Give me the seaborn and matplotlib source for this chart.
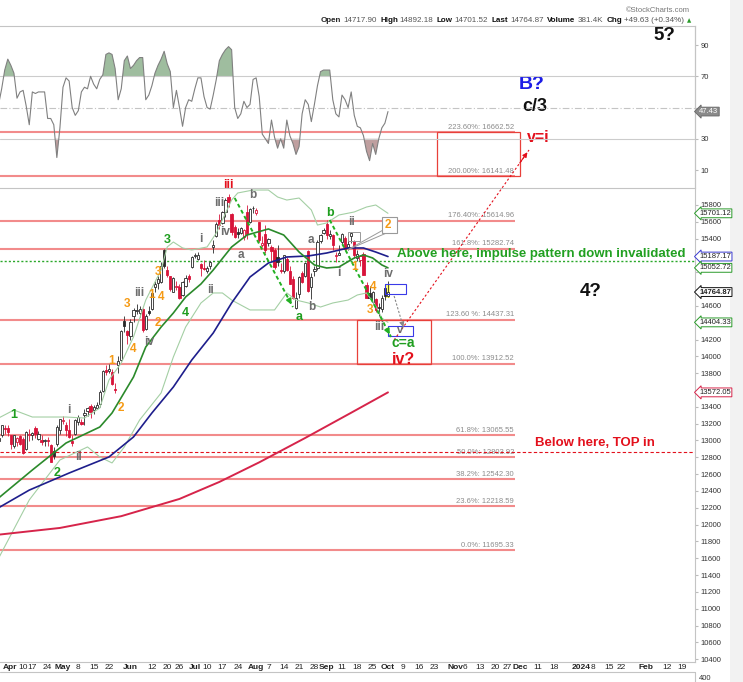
import numpy as np
import pandas as pd
import matplotlib
matplotlib.use("Agg")
import matplotlib.pyplot as plt
import matplotlib.transforms as mtrans
from matplotlib.patches import Rectangle
from matplotlib.lines import Line2D
from matplotlib import font_manager
import seaborn as sns

sns.set_style("white")
plt.rcParams["font.family"] = ["Liberation Sans", "DejaVu Sans"]
_names = {f.name for f in font_manager.fontManager.ttflist}
NARROW = "Liberation Sans Narrow" if "Liberation Sans Narrow" in _names else "Liberation Sans"

W, H = 743, 682

# ---------------- data ----------------
holidays = ["2023-04-07", "2023-05-29", "2023-06-19", "2023-07-04", "2023-09-04",
            "2023-11-23", "2023-12-25", "2024-01-01", "2024-01-15", "2024-02-19"]
days = pd.bdate_range("2023-03-30", "2024-03-01", freq="C", holidays=holidays)

# daily candles, 2023-03-30 .. 2023-10-02
opens = [12990, 13060, 13150, 13150, 13060, 12940, 12980, 13050, 13020, 12900, 13060, 13070, 13150, 13020,
         13000, 12990, 13000, 12950, 12880, 12960, 13130, 13230, 13190, 13130, 12990, 13080, 13220, 13220,
         13300, 13350, 13410, 13360, 13390, 13430, 13590, 13840, 13830, 13810, 13610, 13900, 13960, 14420,
         14300, 14240, 14480, 14540, 14520, 14560, 14320, 14540, 14560, 14820, 14870, 14890, 15260, 15030,
         14950, 14770, 14830, 14820, 14730, 14840, 14950, 15060, 15190, 15160, 15100, 15050, 15020, 15080,
         15300, 15430, 15620, 15590, 15720, 15900, 15690, 15540, 15480, 15470, 15420, 15720, 15600, 15770,
         15700, 15600, 15320, 15460, 15350, 15300, 15270, 15180, 15030, 15010, 15160, 15010, 14920, 14570,
         14740, 14990, 14960, 15250, 14830, 15020, 15050, 15370, 15470, 15580, 15430, 15440, 15190, 15210,
         15360, 15410, 15300, 15430, 15370, 15170, 15150, 15220, 14850, 14750, 14650, 14680, 14590, 14560,
         14810, 14718]
highs = [13050, 13190, 13190, 13180, 13070, 13070, 13040, 13060, 13040, 13110, 13140, 13100, 13170, 13110,
         13070, 13020, 13040, 12960, 12920, 13180, 13250, 13290, 13220, 13260, 13060, 13260, 13300, 13260,
         13370, 13400, 13430, 13420, 13460, 13600, 13840, 13900, 13910, 13850, 13680, 14000, 14310, 14480,
         14310, 14440, 14580, 14620, 14600, 14580, 14500, 14600, 14760, 14900, 14960, 15120, 15280, 15070,
         14960, 14940, 14900, 14860, 14900, 14970, 14980, 15190, 15230, 15240, 15110, 15150, 15070, 15130,
         15380, 15600, 15690, 15730, 15880, 15930, 15700, 15560, 15530, 15540, 15510, 15800, 15760, 15790,
         15770, 15600, 15430, 15560, 15410, 15320, 15290, 15320, 15110, 15200, 15180, 15080, 14950, 14760,
         14960, 15010, 15120, 15260, 14990, 15070, 15380, 15460, 15530, 15620, 15500, 15450, 15240, 15320,
         15470, 15430, 15380, 15480, 15380, 15260, 15210, 15240, 14880, 14840, 14780, 14700, 14630, 14730,
         14860, 14892]
lows = [12950, 13040, 13080, 13050, 12900, 12910, 12930, 12950, 12840, 12890, 12990, 13010, 13030, 13010,
        12950, 12930, 12930, 12740, 12780, 12930, 13080, 13200, 13050, 13030, 12930, 13070, 13190, 13190,
        13180, 13290, 13270, 13320, 13380, 13400, 13580, 13780, 13800, 13660, 13560, 13800, 13950, 14290,
        14150, 14200, 14410, 14500, 14470, 14290, 14310, 14490, 14550, 14760, 14800, 14870, 15050, 14940,
        14780, 14760, 14790, 14680, 14720, 14830, 14880, 15050, 15170, 15150, 14960, 15030, 14990, 15040,
        15230, 15420, 15520, 15580, 15660, 15780, 15440, 15410, 15410, 15450, 15380, 15400, 15590, 15710,
        15680, 15360, 15300, 15230, 15310, 15130, 15040, 15070, 14990, 14990, 15010, 14860, 14680, 14560,
        14700, 14870, 14940, 14770, 14680, 14950, 15030, 15350, 15460, 15400, 15400, 15260, 15120, 15200,
        15340, 15270, 15270, 15350, 15170, 15130, 15080, 14970, 14690, 14690, 14620, 14530, 14480, 14530,
        14670, 14702]
closes = [13030, 13181, 13140, 13100, 12960, 13060, 13030, 12960, 12850, 13100, 13080, 13090, 13080, 13080,
          12980, 13010, 12990, 12750, 12820, 13160, 13250, 13230, 13130, 13040, 12970, 13240, 13280, 13200,
          13330, 13390, 13340, 13400, 13420, 13580, 13830, 13810, 13850, 13670, 13600, 13940, 14300, 14360,
          14250, 14410, 14550, 14550, 14560, 14310, 14480, 14520, 14750, 14860, 14920, 15080, 15080, 14970,
          14800, 14930, 14830, 14690, 14890, 14930, 14920, 15180, 15200, 15200, 15050, 15040, 15050, 15120,
          15320, 15580, 15560, 15720, 15860, 15840, 15480, 15420, 15460, 15530, 15500, 15450, 15750, 15760,
          15740, 15380, 15350, 15270, 15400, 15250, 15060, 15120, 15020, 15200, 15030, 14860, 14690, 14690,
          14940, 14890, 15110, 14780, 14940, 15040, 15360, 15440, 15500, 15440, 15460, 15330, 15210, 15230,
          15460, 15280, 15340, 15470, 15200, 15220, 15190, 14970, 14690, 14700, 14770, 14550, 14580, 14690,
          14715, 14764.87]

rsi = [52, 62, 74, 81, 77, 72, 56, 60, 61, 51, 39, 60, 59, 60, 60, 60, 43, 43, 39, 18, 37, 63, 69, 67,
       50, 45, 48, 60, 63, 62, 70, 65, 62, 68, 71, 84, 85, 84, 75, 55, 62, 80, 83, 75, 77, 80, 82, 82,
       55, 58, 64, 72, 77, 81, 86, 78, 73, 50, 61, 50, 38, 50, 55, 54, 62, 69, 69, 57, 50, 49, 58, 68,
       80, 84, 87, 89, 87, 50, 43, 46, 54, 50, 52, 68, 69, 57, 33, 30, 27, 42, 31, 24, 30, 24, 42, 32,
       27, 20, 25, 46, 55, 52, 41, 52, 64, 73, 74, 74, 74, 55, 46, 44, 58, 55, 50, 60, 45, 38, 37, 32,
       22, 16, 27, 20, 30, 37, 40, 47.43]

ma20_dates = ["2023-03-30", "2023-04-17", "2023-05-02", "2023-05-17", "2023-05-23", "2023-06-02", "2023-06-08",
              "2023-06-15", "2023-06-22", "2023-06-28", "2023-07-06", "2023-07-12", "2023-07-20", "2023-07-27",
              "2023-08-07", "2023-08-14", "2023-08-21", "2023-08-28", "2023-09-01", "2023-09-08", "2023-09-15",
              "2023-09-20", "2023-09-25", "2023-09-28", "2023-10-02"]
ma20 = [12316, 12649, 12970, 13160, 13327, 13755, 14112, 14349, 14516, 14706, 14861, 15027, 15301, 15443,
        15515, 15443, 15241, 15087, 15051, 15063, 15170, 15206, 15170, 15087, 15052.72]

ma50_dates = ["2023-03-30", "2023-04-14", "2023-05-03", "2023-05-22", "2023-06-02", "2023-06-12", "2023-06-22",
              "2023-06-30", "2023-07-12", "2023-07-20", "2023-07-28", "2023-08-07", "2023-08-15", "2023-08-24",
              "2023-09-01", "2023-09-13", "2023-09-20", "2023-09-26", "2023-10-02"]
ma50 = [12200, 12410, 12613, 12804, 13042, 13327, 13636, 13957, 14278, 14635, 14944, 15110, 15182, 15194,
        15229, 15289, 15289, 15241, 15187.17]

ma200_dates = ["2023-03-30", "2023-04-28", "2023-05-26", "2023-06-26", "2023-07-14", "2023-08-02",
               "2023-08-23", "2023-09-14", "2023-10-02"]
ma200 = [11880, 11960, 12100, 12305, 12507, 12740, 13030, 13330, 13572.05]

bbu_dates = ["2023-03-30", "2023-04-06", "2023-04-17", "2023-05-02", "2023-05-10", "2023-05-17", "2023-05-22",
             "2023-05-26", "2023-06-02", "2023-06-08", "2023-06-15", "2023-06-20", "2023-06-22", "2023-06-27",
             "2023-06-30", "2023-07-10", "2023-07-13", "2023-07-20", "2023-07-24", "2023-07-31", "2023-08-07",
             "2023-08-10", "2023-08-15", "2023-08-21", "2023-08-25", "2023-08-29", "2023-09-01", "2023-09-08",
             "2023-09-15", "2023-09-21", "2023-09-26", "2023-10-02"]
bbu = [13267, 13362, 13279, 13279, 13267, 13386, 13719, 13921, 14231, 14670, 15027, 15301, 15360, 15289,
       15265, 15301, 15467, 15859, 15943, 15978, 15978, 15895, 15859, 15883, 15741, 15562, 15586, 15681,
       15717, 15776, 15800, 15701.12]

bbl_dates = ["2023-03-30", "2023-04-14", "2023-04-28", "2023-05-11", "2023-05-17", "2023-05-23", "2023-05-30",
             "2023-06-06", "2023-06-15", "2023-06-22", "2023-06-28", "2023-07-06", "2023-07-12", "2023-07-17",
             "2023-07-20", "2023-07-28", "2023-08-09", "2023-08-15", "2023-08-18", "2023-08-24", "2023-08-30",
             "2023-09-06", "2023-09-13", "2023-09-18", "2023-09-21", "2023-09-26", "2023-09-28", "2023-10-02"]
bbl = [11600, 12293, 12768, 12923, 12804, 12733, 12923, 13244, 13565, 13993, 14349, 14635, 14754, 14754,
       14670, 14552, 14552, 14754, 14670, 14635, 14587, 14635, 14670, 14730, 14754, 14599, 14456, 14404.33]

fib_values = [16662.52, 16141.48, 15614.96, 15282.74, 14437.31, 13912.52, 13065.55, 12803.92, 12542.30,
              12218.59, 11695.33]
fib_labels = ["223.60%: 16662.52", "200.00%: 16141.48", "176.40%: 15614.96", "161.8%: 15282.74",
              "123.60 %: 14437.31", "100.0%: 13912.52", "61.8%: 13065.55", "50.0%: 12803.92",
              "38.2%: 12542.30", "23.6%: 12218.59", "0.0%: 11695.33"]

tick_dates = ["2023-04-03", "2023-04-10", "2023-04-17", "2023-04-24", "2023-05-01", "2023-05-08", "2023-05-15",
              "2023-05-22", "2023-06-01", "2023-06-12", "2023-06-20", "2023-06-26", "2023-07-03", "2023-07-10",
              "2023-07-17", "2023-07-24", "2023-08-01", "2023-08-07", "2023-08-14", "2023-08-21", "2023-08-28",
              "2023-09-01", "2023-09-11", "2023-09-18", "2023-09-25", "2023-10-02", "2023-10-09", "2023-10-16",
              "2023-10-23", "2023-11-01", "2023-11-06", "2023-11-13", "2023-11-20", "2023-11-27", "2023-12-01",
              "2023-12-11", "2023-12-18", "2024-01-02", "2024-01-08", "2024-01-16", "2024-01-22", "2024-02-01",
              "2024-02-12", "2024-02-20"]
tick_labels = ["Apr", "10", "17", "24", "May", "8", "15", "22", "Jun", "12", "20", "26", "Jul", "10", "17",
               "24", "Aug", "7", "14", "21", "28", "Sep", "11", "18", "25", "Oct", "9", "16", "23", "Nov", "6",
               "13", "20", "27", "Dec", "11", "18", "2024", "8", "15", "22", "Feb", "12", "19"]

RED = "#e3101c"
GREEN = "#1f9e1f"
ORANGE = "#f59a14"
GRAY = "#6e6e6e"
BLUE = "#1c1ce6"
BLACK = "#111111"

# (date, price, text, colour, size)
wave_labels = [
    ("2023-04-06", 13303, "1", GREEN, 9), ("2023-04-27", 12613, "2", GREEN, 9),
    ("2023-06-20", 15384, "3", GREEN, 9), ("2023-06-28", 14516, "4", GREEN, 9),
    ("2023-09-05", 15705, "b", GREEN, 9), ("2023-08-21", 14468, "a", GREEN, 9),
    ("2023-10-09", 14165, "c=a", GREEN, 10),
    ("2023-07-19", 16038, "iii", RED, 9), ("2023-10-09", 13965, "iv?", RED, 11.5),
    ("2023-05-03", 13362, "i", GRAY, 8.5), ("2023-05-08", 12804, "ii", GRAY, 8.5),
    ("2023-06-06", 14754, "iii", GRAY, 8.5), ("2023-06-09", 14171, "iv", GRAY, 8.5),
    ("2023-07-06", 15396, "i", GRAY, 8.5), ("2023-07-11", 14789, "ii", GRAY, 8.5),
    ("2023-07-14", 15824, "iii", GRAY, 8.5), ("2023-07-18", 15479, "iv", GRAY, 8.5),
    ("2023-07-25", 15206, "a", GRAY, 8.5), ("2023-07-31", 15919, "b", GRAY, 8.5),
    ("2023-08-25", 15384, "a", GRAY, 8.5), ("2023-08-25", 14587, "b", GRAY, 8.5),
    ("2023-09-14", 15598, "ii", GRAY, 8.5), ("2023-09-08", 14991, "i", GRAY, 8.5),
    ("2023-10-02", 14980, "iv", GRAY, 8.5), ("2023-09-27", 14349, "iii", GRAY, 8.5),
    ("2023-10-06", 14310, "v", GRAY, 8),
    ("2023-05-23", 13945, "1", ORANGE, 8.5), ("2023-05-26", 13386, "2", ORANGE, 8.5),
    ("2023-05-31", 14623, "3", ORANGE, 8.5), ("2023-06-02", 14088, "4", ORANGE, 8.5),
    ("2023-06-12", 14730, "1", ORANGE, 8.5), ("2023-06-14", 14397, "2", ORANGE, 8.5),
    ("2023-06-14", 15003, "3", ORANGE, 8.5), ("2023-06-15", 14706, "4", ORANGE, 8.5),
    ("2023-09-15", 15063, "1", ORANGE, 8.5), ("2023-09-25", 14825, "4", ORANGE, 8.5),
    ("2023-09-22", 14552, "3", ORANGE, 8.5),
    ("2023-12-07", 17227, "B?", BLUE, 14), ("2023-12-08", 16977, "c/3", BLACK, 13),
    ("2024-02-09", 17821, "5?", BLACK, 13.5), ("2024-01-05", 14777, "4?", BLACK, 13.5),
    ("2023-12-11", 16597, "v=i", RED, 11.5),
]

# ---------------- layout helpers (pixel -> axes units) ----------------
BAR0_PX, BAR_PX = -1.4, 3.066          # pixel x of first candle, pixels per bar
P_REF, P_REF_PX, PT_PX = 15800, 205, 0.0841


def px_x(x):
    return (x - BAR0_PX) / BAR_PX


def px_y(y):
    return P_REF - (y - P_REF_PX) / PT_PX


def box(x0, y0, x1, y1):
    return [x0 / W, 1 - y1 / H, (x1 - x0) / W, (y1 - y0) / H]


def pos(d):
    return days.get_loc(pd.Timestamp(d))


fig = plt.figure(figsize=(W / 100, H / 100), dpi=100)
ax = fig.add_axes(box(0, 26, 695, 662))
rax = fig.add_axes(box(0, 26, 695, 188))
rax.set_facecolor("none")

XL = (px_x(0), px_x(695))

# ---------------- price panel ----------------
for v, lab in zip(fib_values, fib_labels):
    ax.plot([XL[0], px_x(515)], [v, v], color="#f28b8b", lw=1.5, zorder=1, solid_capstyle="butt")
    ax.annotate(lab, (px_x(514), v), xytext=(0, 1), textcoords="offset points", ha="right", va="bottom",
                fontsize=5.5, color="#8c8c8c", zorder=2)

ax.axhline(15140, color="#2aa82a", lw=1.0, ls=(0, (1.5, 1.5)), zorder=2)
ax.axhline(12860, color=RED, lw=0.8, ls=(0, (3, 2)), zorder=2)

x = np.arange(len(closes))
o, h, l, c = map(np.asarray, (opens, highs, lows, closes))
prev = np.r_[c[0] - 1, c[:-1]]
CRED = "#d8143a"
for xi, oi, hi, li, ci, pc in zip(x, o, h, l, c, prev):
    col = CRED if ci < pc else "#2a2a2a"
    ax.vlines(xi, li, hi, color=col, lw=0.6, zorder=4)
    face = "white" if ci >= oi else col
    ax.add_patch(Rectangle((xi - 0.37, min(oi, ci)), 0.74, max(abs(ci - oi), 8),
                           facecolor=face, edgecolor=col, lw=0.6, zorder=5))

# yellow highlight on last bar
ax.add_patch(Rectangle((pos("2023-10-02") - 0.8, 14694), 1.6, 155, facecolor="#ffff70",
                       edgecolor="none", zorder=3))


def line(dates, vals, color, lw, z=6):
    sns.lineplot(x=[pos(d) for d in dates], y=vals, ax=ax, color=color, lw=lw, sort=False,
                 estimator=None, zorder=z)


line(bbu_dates, bbu, "#a4cfa4", 0.8)
line(bbl_dates, bbl, "#a4cfa4", 0.8)
line(ma200_dates, ma200, "#d6244a", 1.4)
line(ma50_dates, ma50, "#1e1e8c", 1.2)
line(ma20_dates, ma20, "#2b8a2b", 1.2)


def rect(d0, d1, p0, p1, ec, lw=0.9, fc="none", z=7):
    ax.add_patch(Rectangle((pos(d0), p0), pos(d1) - pos(d0), p1 - p0, facecolor=fc, edgecolor=ec,
                           lw=lw, zorder=z, clip_on=False))


rect("2023-10-24", "2023-12-01", 16141.48, 16662.52, "#e8403a")
rect("2023-09-18", "2023-10-20", 13912.52, 14437.31, "#e8403a")
rect("2023-09-29", "2023-10-10", 14740, 14861, "#3a3ae8", lw=0.8)
rect("2023-10-02", "2023-10-12", 14242, 14361, "#3a3ae8", lw=0.8)
rect("2023-09-13", "2023-09-19", 15372, 15479, "#999999", lw=0.7)
rect("2023-09-28", "2023-10-05", 15467, 15657, "#999999", lw=0.8, fc="white", z=9)
ax.plot([pos("2023-09-28") + 0.3, pos("2023-09-13")], [15500, 15270], color="#999999", lw=0.7, zorder=8)
ax.plot([pos("2023-09-29") + 0.5, pos("2023-09-13")], [15467, 15270], color="#999999", lw=0.7, zorder=8)


def arrow(d0, p0, d1, p1, color, lw, ls):
    x0, x1 = pos(d0), pos(d1)
    ax.plot([x0, x1], [p0, p1], color=color, lw=lw, ls=ls, zorder=8)
    ax.annotate("", xy=(x1, p1), xytext=(x1 - (x1 - x0) * 0.08, p1 - (p1 - p0) * 0.08),
                arrowprops=dict(arrowstyle="-|>", color=color, lw=lw, mutation_scale=7), zorder=8)


arrow("2023-07-21", 15883, "2023-08-17", 14587, "#22b022", 1.4, (0, (2, 1.5)))
arrow("2023-09-05", 15622, "2023-10-03", 14231, "#22b022", 1.4, (0, (2, 1.5)))
arrow("2023-10-04", 14195, "2023-12-06", 16454, RED, 0.8, (0, (2, 2)))
arrow("2023-10-04", 14718, "2023-10-09", 14349, "#888888", 0.8, (0, (2, 1.5)))

for d, p, t, col, s in wave_labels:
    ax.text(pos(d), p, t, color=col, fontsize=s, fontweight="bold", ha="center", va="center",
            zorder=10, clip_on=False)
ax.text(pos("2023-10-02"), 15562, "2", color=ORANGE, fontsize=8.5, fontweight="bold",
        ha="center", va="center", zorder=10)

ax.text(pos("2023-10-05"), 15217, "Above here, impulse pattern down invalidated", color="#22a022",
        fontsize=9.5, fontweight="bold", ha="left", va="center", zorder=10)
ax.text(pos("2023-12-08"), 12970, "Below here, TOP in", color=RED, fontsize=9.5, fontweight="bold",
        ha="left", va="center", zorder=10)

ax.set_xlim(*XL)
ax.set_ylim(px_y(662), px_y(26))
ax.set_xlabel("")
ax.set_ylabel("")
ax.yaxis.tick_right()
yt = np.arange(10400, 15801, 200)
hidden = {15200, 15000, 14800, 14400, 13600}   # sit under the value badges
ax.set_yticks(yt)
ax.set_yticklabels(["" if v in hidden else str(v) for v in yt])
ax.tick_params(axis="y", labelsize=5.5, length=2, pad=2, colors="#bbbbbb", labelcolor="#333333")

# date axis: tick marks from the axis, labels drawn under each tick
ax.set_xticks([pos(d) for d in tick_dates])
ax.set_xticklabels([])
ax.tick_params(axis="x", length=2, colors="#bbbbbb")
dtr = mtrans.blended_transform_factory(ax.transData, ax.transAxes)
for i, (d, lab) in enumerate(zip(tick_dates, tick_labels)):
    bold = (not lab.isdigit()) or lab == "2024"
    ha, xo = "center", 0
    if i == 0:
        ha, xo = "left", -0.5
    elif i == 1:
        ha, xo = "left", 0.55
    ax.text(pos(d) + xo, -0.0085, lab, transform=dtr, ha=ha, va="center", fontsize=6, family=NARROW,
            fontweight="bold" if bold else "normal", color="#222222", clip_on=False)

for s in ("left", "top"):
    ax.spines[s].set_visible(False)
for s in ("right", "bottom"):
    ax.spines[s].set_color("#c4c4c4")
    ax.spines[s].set_linewidth(0.8)

# right-edge value badges
tr = mtrans.blended_transform_factory(ax.transAxes, ax.transData)
badges = [(15701.12, "15701.12", "#2a9a2a", "normal"), (15187.17, "15187.17", "#3a3ad0", "normal"),
          (15052.72, "15052.72", "#2a9a2a", "normal"), (14764.87, "14764.87", "#111111", "bold"),
          (14404.33, "14404.33", "#2a9a2a", "normal"), (13572.05, "13572.05", "#d6244a", "normal")]
for v, t, ec, wt in badges:
    ax.text(1.006, v, t, transform=tr, fontsize=5.5, fontweight=wt, ha="left", va="center", clip_on=False,
            zorder=20, color="#222222",
            bbox=dict(boxstyle="larrow,pad=0.12", facecolor="white", edgecolor=ec, lw=0.7))

# ---------------- RSI panel ----------------
r = np.asarray(rsi, dtype=float)
xr = np.arange(len(r))
rax.axhline(70, color="#cccccc", lw=0.8)
rax.axhline(30, color="#cccccc", lw=0.8)
rax.axhline(50, color="#c4c4c4", lw=0.8, ls=(0, (6, 2, 1, 2)))
rax.fill_between(xr, r, 70, where=r >= 70, interpolate=True, color="#9fbd9f", lw=0)
rax.fill_between(xr, r, 30, where=r <= 30, interpolate=True, color="#bf9f9f", lw=0)
sns.lineplot(x=xr, y=r, ax=rax, color="#808080", lw=0.8)
rax.set_xlim(*XL)
rax.set_ylim(-1.5, 102.2)
rax.set_xlabel("")
rax.set_ylabel("")
rax.set_xticks([])
rax.yaxis.tick_right()
rax.set_yticks([10, 30, 50, 70, 90])
rax.set_yticklabels(["10", "30", "", "70", "90"])
rax.tick_params(axis="y", labelsize=5.5, length=2, pad=2, colors="#bbbbbb", labelcolor="#333333")
rax.spines["left"].set_visible(False)
for s in ("right", "bottom", "top"):
    rax.spines[s].set_color("#c4c4c4")
    rax.spines[s].set_linewidth(0.8)
rtr = mtrans.blended_transform_factory(rax.transAxes, rax.transData)
rax.text(1.006, 47.43, "47.43", transform=rtr, fontsize=5.5, ha="left", va="center", color="white",
         clip_on=False, zorder=20,
         bbox=dict(boxstyle="larrow,pad=0.12", facecolor="#8a8a8a", edgecolor="#666666", lw=0.6))

# ---------------- header and frame ----------------
fig.text(690 / W, 1 - 10 / H, "\u00a9StockCharts.com", fontsize=5.5, color="#777777", ha="right", va="center")
hdr = [("Open", "bold"), ("14717.90", "normal"), ("High", "bold"), ("14892.18", "normal"),
       ("Low", "bold"), ("14701.52", "normal"), ("Last", "bold"), ("14764.87", "normal"),
       ("Volume", "bold"), ("381.4K", "normal"), ("Chg", "bold"), ("+49.63 (+0.34%)", "normal")]
HS = 5.8
t = fig.text(321 / W, 1 - 24 / H, hdr[0][0], fontsize=HS, fontweight="bold", va="bottom", ha="left")
for s, wt in hdr[1:]:
    gap = 1.4 if wt == "normal" else 2.4
    t = fig.add_artist(plt.Annotation(s, xy=(1, 0), xycoords=t, xytext=(gap, 0), textcoords="offset points",
                                      va="bottom", ha="left", fontsize=HS, fontweight=wt,
                                      color="#111111" if wt == "bold" else "#555555"))
fig.add_artist(plt.Annotation("\u25b2", xy=(1, 0), xycoords=t, xytext=(2, 0.5), textcoords="offset points",
                              va="bottom", ha="left", fontsize=4, color="#2a9a2a",
                              family=["DejaVu Sans"]))

fig.add_artist(Rectangle((730 / W, 0), 13 / W, 1, transform=fig.transFigure, facecolor="#f2f2f2",
                         edgecolor="none", zorder=-1))
fig.add_artist(Line2D([0, 695 / W], [1 - 672 / H] * 2, color="#c4c4c4", lw=0.8))
fig.add_artist(Line2D([695 / W] * 2, [0, 1 - 672 / H], color="#c4c4c4", lw=0.8))
fig.text(699 / W, 1 - 679 / H, "400", fontsize=5.5, color="#333333", va="center")

fig.savefig("out.png", dpi=100)
